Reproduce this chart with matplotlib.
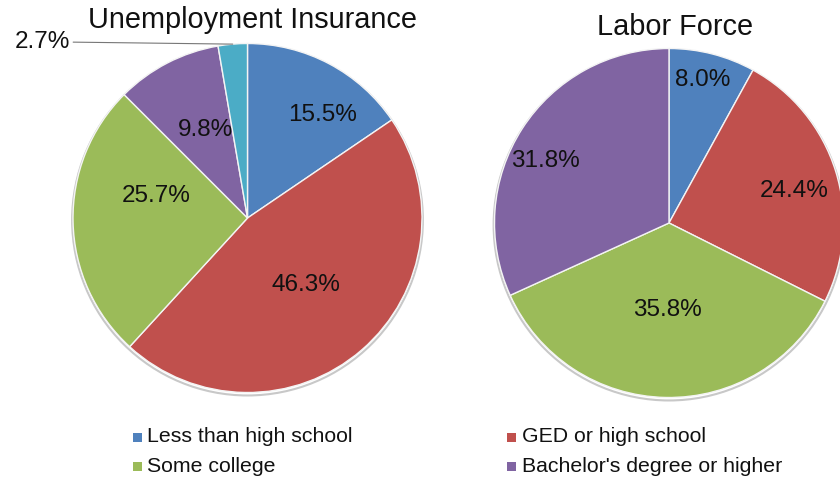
import matplotlib
matplotlib.use("Agg")
import matplotlib.pyplot as plt
from matplotlib.patches import Rectangle
import numpy as np

plt.rcParams['font.family'] = ['Liberation Sans', 'DejaVu Sans']

categories = ["Less than high school", "GED or high school", "Some college",
              "Bachelor's degree or higher"]
ui_labels = categories + ["Other"]
ui_values = [15.5, 46.3, 25.7, 9.8, 2.7]
lf_values = [8.0, 24.4, 35.8, 31.8]
titles = ["Unemployment Insurance", "Labor Force"]

colors = ["#4F81BD", "#C0504D", "#9BBB59", "#8064A2", "#4BACC6"]

W, H = 840, 483
fig = plt.figure(figsize=(W / 100, H / 100), dpi=100)


def pie_axes(cx, cy, r):
    return fig.add_axes([(cx - r) / W, (H - cy - r) / H, 2 * r / W, 2 * r / H])


def draw_pie(ax, values, dists, angle_adj):
    wedges, _ = ax.pie(values, colors=colors[:len(values)], startangle=90,
                       counterclock=False, radius=1.0,
                       wedgeprops=dict(edgecolor="#f4f4f4", linewidth=1.0))
    for w in wedges:
        w.set_clip_on(False)
    ax.add_patch(plt.Circle((0.0, -0.012), 1.005, facecolor="none",
                            edgecolor="#c8c8c8", linewidth=1.5, zorder=0,
                            clip_on=False))
    ax.set_xlim(-1, 1)
    ax.set_ylim(-1, 1)
    ax.set_aspect("equal")
    ax.axis("off")
    total = sum(values)
    cum = np.cumsum([0] + list(values))
    out = []
    for i, v in enumerate(values):
        mid = 90 - 360 * (cum[i] + v / 2) / total
        out.append(mid)
        if dists[i] is None:
            continue
        a = np.deg2rad(mid + angle_adj[i])
        ax.text(dists[i] * np.cos(a), dists[i] * np.sin(a), f"{v:.1f}%",
                ha="center", va="center", fontsize=17.5, color="#111111")
    return out


# Left pie
ax1 = pie_axes(247.5, 218, 174.5)
mids = draw_pie(ax1, ui_values, [0.73, 0.51, 0.54, 0.56, None],
                [-8, 0, -15, -2, 0])
a = np.deg2rad(mids[4])
ax1.annotate(f"{ui_values[4]:.1f}%", xy=(np.cos(a), np.sin(a)),
             xytext=(-1.015, 1.01), ha="right", va="center", fontsize=17.5,
             color="#111111",
             arrowprops=dict(arrowstyle="-", color="#777777", lw=0.8,
                             shrinkA=0, shrinkB=0),
             annotation_clip=False)

# Right pie
ax2 = pie_axes(669, 223, 174.5)
draw_pie(ax2, lf_values, [0.84, 0.74, 0.50, 0.79], [1, -3, 0, 6])

# Titles
fig.text(253 / W, 1 - 28 / H, titles[0], ha="center", va="baseline",
         fontsize=20.8, color="#111111")
fig.text(675 / W, 1 - 35 / H, titles[1], ha="center", va="baseline",
         fontsize=20.8, color="#111111")

# Legend
pos = [(137, 437), (512, 437), (137, 466), (512, 466)]
for (x, y), lab, c in zip(pos, categories, colors):
    fig.patches.append(Rectangle(((x - 4.5) / W, 1 - (y + 4.5) / H), 9 / W, 9 / H,
                                 transform=fig.transFigure, facecolor=c,
                                 edgecolor="none"))
    fig.text((x + 10) / W, 1 - y / H, lab, ha="left", va="center",
             fontsize=15.3, color="#111111")

fig.savefig("out.png", dpi=100)
